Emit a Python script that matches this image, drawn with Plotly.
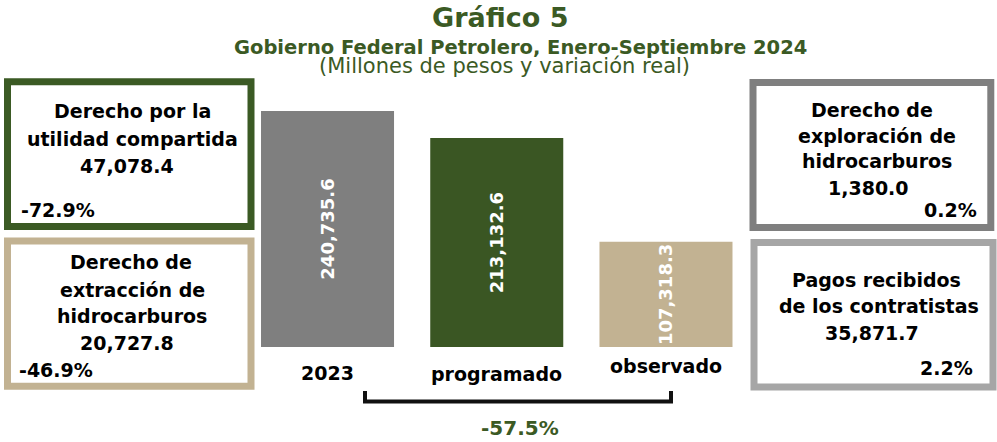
import plotly.graph_objects as go

# ---------------- data ----------------
categories = ["2023", "programado", "observado"]
values = [240735.6, 213132.6, 107318.3]
total_change = -57.5

box_names = [
    ["Derecho por la", "utilidad compartida"],
    ["Derecho de", "extracción de", "hidrocarburos"],
    ["Derecho de", "exploración de", "hidrocarburos"],
    ["Pagos recibidos", "de los contratistas"],
]
box_values = [47078.4, 20727.8, 1380.0, 35871.7]
box_changes = [-72.9, -46.9, 0.2, 2.2]

title = "Gráfico 5"
subtitle = "Gobierno Federal Petrolero, Enero-Septiembre 2024"
units = "(Millones de pesos y variación real)"

# ---------------- style ----------------
W, H = 997, 442
GREEN = "#3b5a24"
BAR_GREEN = "#3a5623"
GRAY = "#7f7f7f"
TAN = "#c2b292"
LGRAY = "#a6a6a6"
FONT = "DejaVu Sans"
bar_colors = [GRAY, BAR_GREEN, TAN]


def X(px):
    return px / W


def Y(py):
    return 1 - py / H


annotations = []


def ann(text, x, baseline, size, color="black", bold=True, anchor="center"):
    annotations.append(dict(
        text=text, xref="paper", yref="paper",
        x=X(x), y=Y(baseline - 0.346 * size),
        xanchor=anchor, yanchor="middle", showarrow=False,
        font=dict(family=FONT, size=size, color=color,
                  weight="bold" if bold else "normal"),
    ))


fig = go.Figure()
fig.add_trace(go.Bar(
    x=categories, y=values,
    marker=dict(color=bar_colors, line=dict(width=0)),
    texttemplate="%{y:,.1f}",
    textposition="inside", insidetextanchor="middle", textangle=-90,
    constraintext="none",
    textfont=dict(family=FONT, size=18, color="white", weight="bold"),
    hoverinfo="skip",
))

# titles
ann(title, 500, 27, 27, GREEN)
ann(subtitle, 520, 54, 19.5, GREEN)
ann(units, 505, 73, 21, GREEN, bold=False)

# category labels (staggered as in the original)
cat_baselines = [380, 381, 373]
for i, (c, bl) in enumerate(zip(categories, cat_baselines)):
    annotations.append(dict(
        text=c, xref="x", yref="paper", x=i, y=Y(bl - 0.346 * 19),
        xanchor="center", yanchor="middle", showarrow=False,
        font=dict(family=FONT, size=19, color="black", weight="bold"),
    ))

# total variation label
ann(f"{total_change:.1f}%", 519.5, 435, 20, GREEN)

box_layout = [
    dict(rect=(7.5, 81.7, 251, 226.5), color=GREEN,
         lines=[(132, 118), (132.5, 146)], value=(126.5, 173), change=(19, 217, "left")),
    dict(rect=(7.5, 241, 251, 386.3), color=TAN,
         lines=[(131, 269), (132, 297), (132, 323)], value=(126.5, 350), change=(17, 377, "left")),
    dict(rect=(753, 82.5, 990.8, 227.5), color=GRAY,
         lines=[(872, 117), (877, 143), (877, 168)], value=(868, 195), change=(979, 217, "right")),
    dict(rect=(754, 242.5, 993, 387), color=LGRAY,
         lines=[(876, 287), (879, 313)], value=(872, 340), change=(975, 375, "right")),
]

shapes = []
for i, bl in enumerate(box_layout):
    x0, y0, x1, y1 = bl["rect"]
    shapes.append(dict(type="rect", xref="paper", yref="paper",
                       x0=X(x0), x1=X(x1), y0=Y(y0), y1=Y(y1),
                       line=dict(color=bl["color"], width=7), layer="below"))
    for txt, (cx, b) in zip(box_names[i], bl["lines"]):
        ann(txt, cx, b, 19)
    vx, vb = bl["value"]
    ann(f"{box_values[i]:,.1f}", vx, vb, 19)
    chx, chb, anc = bl["change"]
    ann(f"{box_changes[i]:.1f}%", chx, chb, 19, anchor=anc)

# bracket
bx0, bx1, btop, bbot = 365, 671, 391, 401.5
path = (f"M {X(bx0)},{Y(btop)} L {X(bx0)},{Y(bbot)} "
        f"L {X(bx1)},{Y(bbot)} L {X(bx1)},{Y(btop)}")
shapes.append(dict(type="path", xref="paper", yref="paper", path=path,
                   line=dict(color="#111111", width=4)))

fig.update_layout(
    width=W, height=H, autosize=False,
    margin=dict(l=0, r=0, t=0, b=0, pad=0),
    paper_bgcolor="white", plot_bgcolor="white",
    showlegend=False, bargap=0.214,
    xaxis=dict(domain=[X(242.9), X(750.6)], range=[-0.5, 2.5],
               visible=False, type="category", fixedrange=True),
    yaxis=dict(domain=[Y(347), Y(111)], range=[0, max(values)],
               visible=False, fixedrange=True),
    shapes=shapes, annotations=annotations,
)

fig.write_html(
    "out.html",
    config={"displayModeBar": False},
    post_script="document.body.style.margin='0';document.body.style.overflow='hidden';",
)
